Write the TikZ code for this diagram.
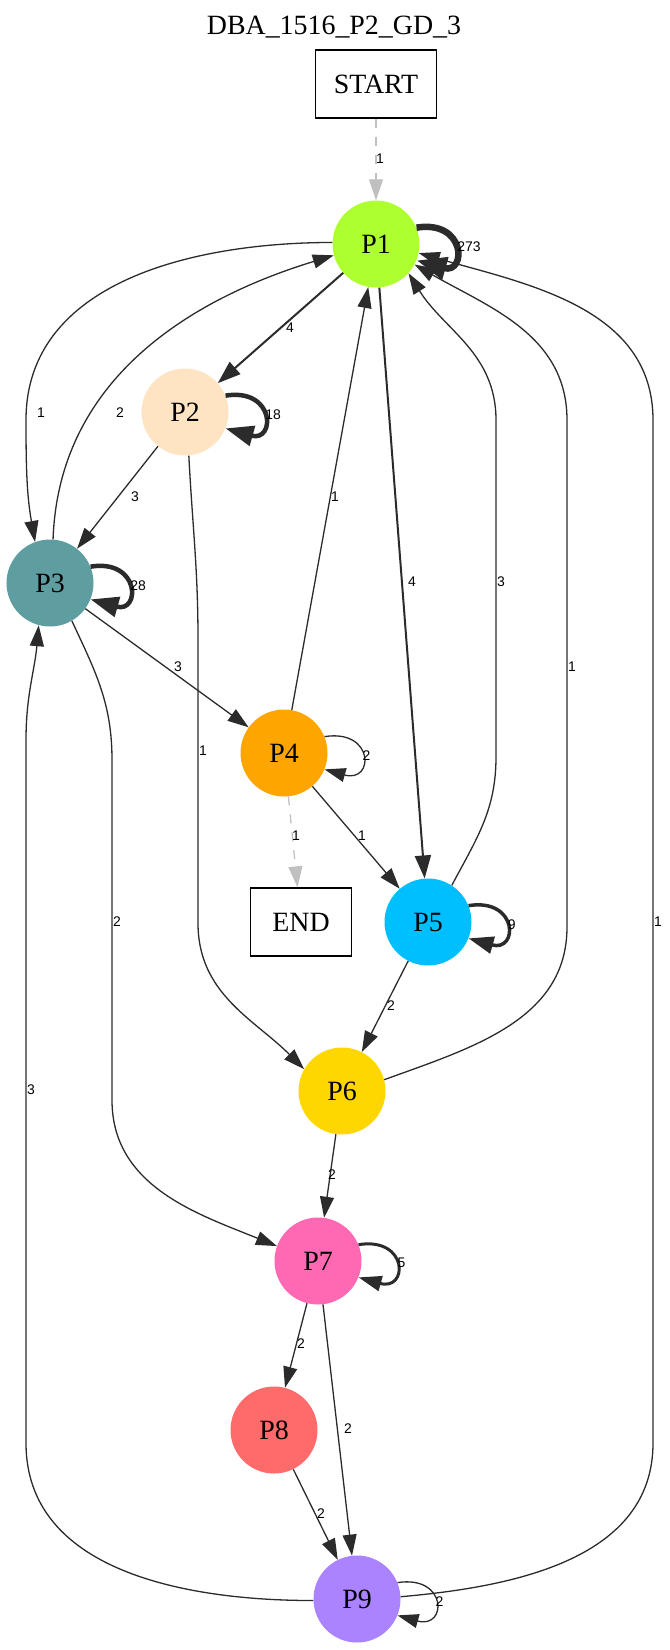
\documentclass[tikz,border=0pt]{standalone}
\usepackage{fontspec}
\setmainfont{Liberation Serif}
\newfontfamily\etiqfont{Liberation Sans}
\usetikzlibrary{arrows.meta}

\definecolor{trait}{HTML}{2B2B2B}
\definecolor{gris}{HTML}{C0C0C0}
\definecolor{c1}{HTML}{ADFF2F}
\definecolor{c2}{HTML}{FFE4C4}
\definecolor{c3}{HTML}{5F9EA0}
\definecolor{c4}{HTML}{FFA500}
\definecolor{c5}{HTML}{00BFFF}
\definecolor{c6}{HTML}{FFD700}
\definecolor{c7}{HTML}{FF69B4}
\definecolor{c8}{HTML}{FF6A6A}
\definecolor{c9}{HTML}{AB82FF}

\begin{document}
\begin{tikzpicture}[x=1bp,y=1bp]
\tikzset{
  etat/.style={circle,minimum size=87bp,inner sep=0pt,font=\fontsize{28}{30}\selectfont},
  boite/.style={draw,line width=1.3bp,minimum width=#1,minimum height=68bp,inner sep=0pt,font=\fontsize{28}{30}\selectfont},
  etiq/.style={font=\etiqfont\fontsize{14}{14}\selectfont,inner sep=0pt},
  fleche/.style={draw=trait,line width=1.3bp,-{Triangle[length=21bp,width=14bp]}},
  flechefort/.style={fleche,line width=2bp,-{Triangle[length=23bp,width=16bp]}},
  boucle/.style n args={3}{fleche,line width=#1,-{Triangle[length=#2,width=#3]}},
  pointille/.style={fleche,draw=gris,dash pattern=on 9bp off 9bp},
}
\useasboundingbox (0,0) rectangle (670,-1650);
\node[font=\fontsize{28}{30}\selectfont] (titre) at (334,-27) {DBA\_1516\_P2\_GD\_3};
\node[boite=121bp] (start) at (376,-84) {START};
\node[etat,fill=c1] (p1) at (376,-244) {P1};
\node[etat,fill=c2] (p2) at (185,-412) {P2};
\node[etat,fill=c3] (p3) at (50,-583) {P3};
\node[etat,fill=c4] (p4) at (284,-753) {P4};
\node[boite=101bp] (fin) at (301,-922) {END};
\node[etat,fill=c5] (p5) at (428,-922) {P5};
\node[etat,fill=c6] (p6) at (342,-1091) {P6};
\node[etat,fill=c7] (p7) at (318,-1261) {P7};
\node[etat,fill=c8] (p8) at (274,-1430) {P8};
\node[etat,fill=c9] (p9) at (357,-1599) {P9};
% boucles
\draw[boucle={6.5bp}{30bp}{22bp}] (p1.22) .. controls +(50,8) and +(50,-14) .. node[etiq,pos=0.5,anchor=west] {273} (p1.-22);
\draw[boucle={4.5bp}{28bp}{20bp}] (p2.22) .. controls +(50,8) and +(50,-14) .. node[etiq,pos=0.5,anchor=west] {18} (p2.-22);
\draw[boucle={4.5bp}{28bp}{20bp}] (p3.22) .. controls +(50,8) and +(50,-14) .. node[etiq,pos=0.5,anchor=west] {28} (p3.-22);
\draw[fleche] (p4.22) .. controls +(50,8) and +(50,-14) .. node[etiq,pos=0.5,anchor=west] {2} (p4.-22);
\draw[boucle={3.5bp}{25bp}{17bp}] (p5.22) .. controls +(50,8) and +(50,-14) .. node[etiq,pos=0.5,anchor=west] {9} (p5.-22);
\draw[boucle={3bp}{23bp}{15bp}] (p7.22) .. controls +(50,8) and +(50,-14) .. node[etiq,pos=0.5,anchor=west] {5} (p7.-22);
\draw[fleche] (p9.22) .. controls +(50,8) and +(50,-14) .. node[etiq,pos=0.5,anchor=west] {2} (p9.-22);
% arcs droits
\draw[flechefort] (p1) -- (p2) node[etiq] at (290,-328) {4};
\draw[flechefort] (p1) -- (p5) node[etiq] at (412,-582) {4};
\draw[fleche] (p2) -- (p3) node[etiq] at (135,-497) {3};
\draw[fleche] (p3) -- (p4) node[etiq] at (178,-667) {3};
\draw[fleche] (p4) -- (p1) node[etiq] at (335,-497) {1};
\draw[fleche] (p4) -- (p5) node[etiq] at (362,-836) {1};
\draw[fleche] (p5) -- (p6) node[etiq] at (391,-1006) {2};
\draw[fleche] (p6) -- (p7) node[etiq] at (332,-1175) {2};
\draw[fleche] (p7) -- (p8) node[etiq] at (301,-1344) {2};
\draw[fleche] (p7) -- (p9) node[etiq] at (348,-1429) {2};
\draw[fleche] (p8) -- (p9) node[etiq] at (321,-1514) {2};
% arcs courbes
\draw[fleche] (p1.178) to[out=180,in=90] (26,-420) to[out=-90,in=100] (p3.110);
\node[etiq] at (41,-413) {1};
\draw[fleche] (p3.86) to[out=88,in=197] (p1.195);
\node[etiq] at (120,-413) {2};
\draw[fleche] (p2.-85) to[out=-87,in=90] (198,-640) -- (198,-923) to[out=-90,in=135] (p6.150);
\node[etiq] at (203,-751) {1};
\draw[fleche] (p3.-60) to[out=-65,in=90] (112,-760) -- (112,-1100) to[out=-90,in=158] (p7.160);
\node[etiq] at (117,-922) {2};
\draw[fleche] (p5.57) to[out=62,in=-90] (496,-757) -- (496,-420) to[out=90,in=-58] (p1.-42);
\node[etiq] at (501,-582) {3};
\draw[fleche] (p6.15) to[out=20,in=-90] (567,-927) -- (567,-420) to[out=90,in=-30] (p1.-28);
\node[etiq] at (572,-667) {1};
\draw[fleche] (p9.182) to[out=180,in=-90] (26,-1443) -- (26,-740) to[out=90,in=-95] (p3.-105);
\node[etiq] at (31,-1090) {3};
\draw[fleche] (p9.3) to[out=5,in=-90] (653,-1443) -- (653,-420) to[out=90,in=-16] (p1.-12);
\node[etiq] at (658,-922) {1};
% debut et fin en pointille
\draw[pointille] (start) -- (p1) node[etiq] at (380,-159) {1};
\draw[pointille] (p4) -- (fin) node[etiq] at (296,-836) {1};
\end{tikzpicture}
\end{document}
